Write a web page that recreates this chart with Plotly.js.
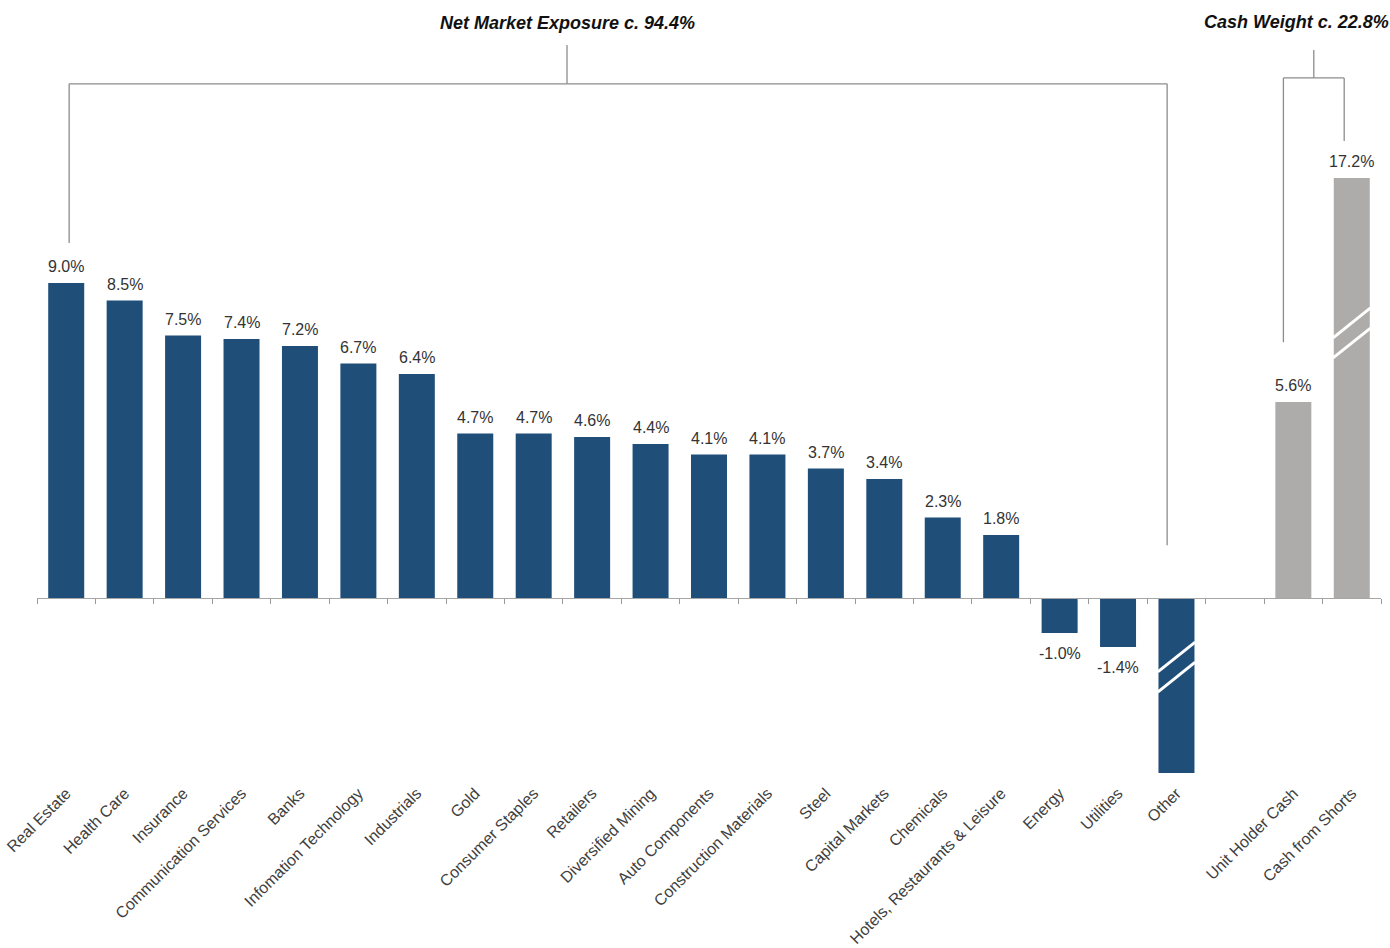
<!DOCTYPE html>
<html>
<head>
<meta charset="utf-8">
<script src="https://cdn.plot.ly/plotly-3.0.1.min.js"></script>
<style>html,body{margin:0;padding:0;background:#fff;}#chart{width:1390px;height:948px;}</style>
</head>
<body>
<div id="chart"></div>
<script>
// ---- data ----
const sectorCategories = ["Real Estate","Health Care","Insurance","Communication Services","Banks","Infomation Technology","Industrials","Gold","Consumer Staples","Retailers","Diversified Mining","Auto Components","Construction Materials","Steel","Capital Markets","Chemicals","Hotels, Restaurants & Leisure","Energy","Utilities","Other"];
// drawn (axis-broken) heights as shown in the picture
const sectorValues = [9.0,8.5,7.5,7.4,7.2,6.7,6.4,4.7,4.7,4.6,4.4,4.1,4.1,3.7,3.4,2.3,1.8,-1.0,-1.4,-5.0];
const sectorLabels = ["9.0%","8.5%","7.5%","7.4%","7.2%","6.7%","6.4%","4.7%","4.7%","4.6%","4.4%","4.1%","4.1%","3.7%","3.4%","2.3%","1.8%","-1.0%","-1.4%",""];
const gapCategory = [" "];
const cashCategories = ["Unit Holder Cash","Cash from Shorts"];
const cashValues = [5.6,12.0];
const cashLabels = ["5.6%","17.2%"];
const netTitle = "Net Market Exposure c. 94.4%";
const cashTitle = "Cash Weight c. 22.8%";

// ---- chart ----
const allCats = sectorCategories.concat(gapCategory, cashCategories);
const nCat = allCats.length;
const yRange = [-5.2, 16.8];
const navy = "#1F4E79", grey = "#AEABAB", lineCol = "#8C8C8C";
const font = "Liberation Sans, Arial, sans-serif";

const traces = [
  {type:"bar", x:sectorCategories, y:sectorValues, marker:{color:navy}, hoverinfo:"x+y"},
  {type:"bar", x:cashCategories, y:cashValues, marker:{color:grey}, hoverinfo:"x+y"}
];

const idx = c => allCats.indexOf(c);
const otherI = idx("Other"), uhcI = idx("Unit Holder Cash"), cfsI = idx("Cash from Shorts");
const shapes = [];
function seg(x0,y0,x1,y1,color,w){shapes.push({type:"line",xref:"x",yref:"y",x0:x0,y0:y0,x1:x1,y1:y1,line:{color:color,width:w}});}
// net market exposure bracket
const netY = 14.69;
const netMid = 8.57;
seg(0.05, netY, otherI-0.16, netY, lineCol, 1.3);
seg(0.05, netY, 0.05, sectorValues[0]+1.14, lineCol, 1.3);
seg(otherI-0.16, netY, otherI-0.16, 1.51, lineCol, 1.3);
seg(netMid, netY, netMid, 15.8, lineCol, 1.3);
// cash weight bracket
const cashY = 14.86;
seg(uhcI-0.17, cashY, cfsI-0.13, cashY, lineCol, 1.3);
seg(uhcI-0.17, cashY, uhcI-0.17, cashValues[0]+1.71, lineCol, 1.3);
seg(cfsI-0.13, cashY, cfsI-0.13, cashValues[1]+1.06, lineCol, 1.3);
const cashMid = (uhcI-0.17 + cfsI-0.13)/2;
seg(cashMid, cashY, cashMid, 15.66, lineCol, 1.3);
// break marks
seg(otherI-0.32, -2.11, otherI+0.32, -1.26, "#fff", 3);
seg(otherI-0.32, -2.69, otherI+0.32, -1.83, "#fff", 3);
seg(cfsI-0.32, 7.43, cfsI+0.32, 8.29, "#fff", 3);
seg(cfsI-0.32, 6.86, cfsI+0.32, 7.71, "#fff", 3);

const annotations = [
  {xref:"x", yref:"y", x:netMid, y:16.43, text:"<b><i>"+netTitle+"</i></b>", showarrow:false,
   font:{family:font,size:18,color:"#111"}, xanchor:"center", yanchor:"middle"},
  {xref:"x", yref:"y", x:21.05, y:16.46, text:"<b><i>"+cashTitle+"</i></b>", showarrow:false,
   font:{family:font,size:18,color:"#111"}, xanchor:"center", yanchor:"middle"}
];
// data labels
function addLabels(cats, vals, labels){
  cats.forEach((c,i)=>{
    if(!labels[i]) return;
    const pos = vals[i] >= 0;
    annotations.push({xref:"x", yref:"y", x:c, y:vals[i], text:labels[i], showarrow:false,
      xanchor:"center", yanchor: pos ? "bottom" : "top", yshift: pos ? 6 : -10,
      font:{family:font,size:16,color:"#333"}});
  });
}
addLabels(sectorCategories, sectorValues, sectorLabels);
addLabels(cashCategories, cashValues, cashLabels);

const layout = {
  width:1390, height:948,
  margin:{l:37, r:9, t:10, b:168},
  paper_bgcolor:"#fff", plot_bgcolor:"#fff",
  showlegend:false, barmode:"group", bargap:0.384,
  xaxis:{type:"category", categoryorder:"array", categoryarray:allCats, range:[-0.5, nCat-0.5],
         tickangle:-45, ticks:"", showline:false, showgrid:false, automargin:false,
         tickfont:{family:font,size:16,color:"#404040"}},
  xaxis2:{overlaying:"x", anchor:"free", position:(0-yRange[0])/(yRange[1]-yRange[0]),
          range:[-0.5, nCat-0.5], tick0:-0.5, dtick:1, ticks:"outside", ticklen:5, tickcolor:"#999",
          showline:true, linecolor:"#A6A6A6", linewidth:1.3, showticklabels:false, showgrid:false, zeroline:false},
  yaxis:{range:yRange, showgrid:false, zeroline:false, showticklabels:false, showline:false, automargin:false},
  shapes:shapes, annotations:annotations
};
// invisible helper trace to activate xaxis2 (zero line with boundary ticks)
traces.push({type:"scatter", x:[0], y:[0], xaxis:"x2", mode:"markers", marker:{opacity:0}, hoverinfo:"skip"});

Plotly.newPlot("chart", traces, layout, {displayModeBar:false, staticPlot:true});
</script>
</body>
</html>
